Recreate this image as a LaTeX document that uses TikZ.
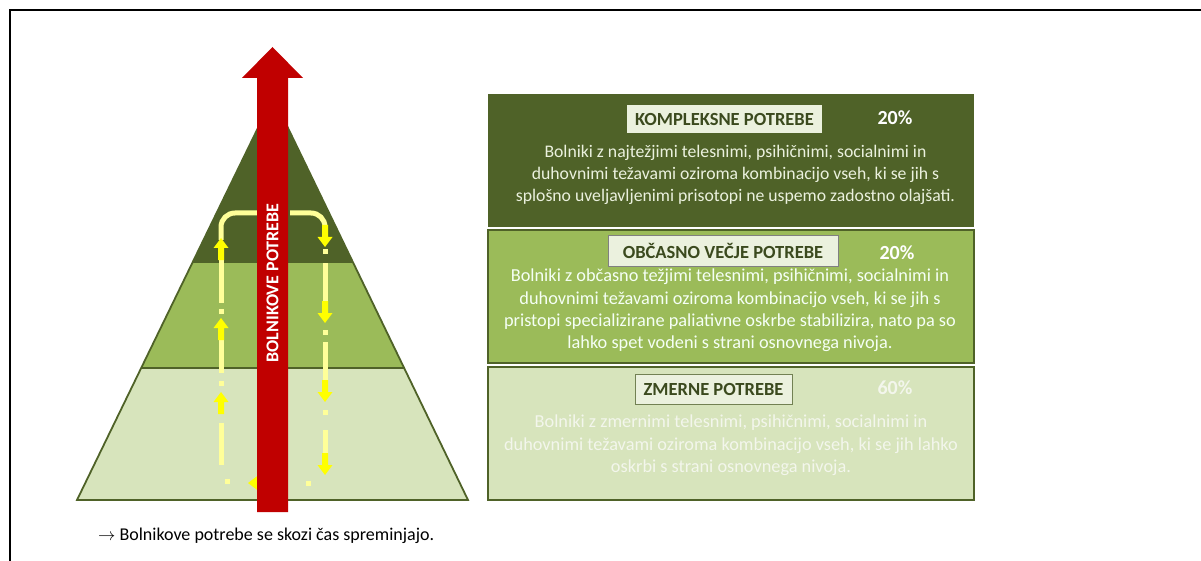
\documentclass[tikz,border=0pt]{standalone}
\usepackage{fontspec}
\setmainfont{Carlito}
\definecolor{dkg}{HTML}{4F6228}
\definecolor{mdg}{HTML}{9BBB59}
\definecolor{ltg}{HTML}{D7E4BC}
\definecolor{pale}{HTML}{EBF1DE}
\definecolor{redarr}{HTML}{C00000}
\definecolor{ylin}{HTML}{FFFF99}
\definecolor{yarr}{HTML}{FFFF00}
\definecolor{ttl}{HTML}{3B4A1E}
\definecolor{faint}{HTML}{F3F6EC}
\newcommand\yblk[3]{\fill[yarr, shift={(#1,#2)}, rotate=#3] (0,0) -- (7.5,10) -- (3,10) -- (3,22) -- (-3,22) -- (-3,10) -- (-7.5,10) -- cycle;}
\newcommand\ydot[2]{\fill[ylin] (#1-2.5,#2-2.5) rectangle +(5,5);}
\begin{document}
\begin{tikzpicture}[x=1pt,y=-1pt,
  yl/.style={ylin, line width=5pt},
  bigbox/.style={minimum width=486pt, minimum height=133pt, inner sep=0pt},
  ttlbox/.style={fill=pale, text=ttl, font=\fontsize{18.5}{20}\selectfont\bfseries, inner sep=0pt},
  pct/.style={font=\fontsize{20}{22}\selectfont\bfseries, inner sep=0pt},
  body/.style={align=center, font=\fontsize{18.3}{22.3}\selectfont, inner sep=0pt}]
\useasboundingbox (0,0) rectangle (1201,561);
% frame
\draw[line width=2.5pt] (1201,10) -- (10,10) -- (10,561);
% pyramid
\coordinate (apex) at (273,97);
\coordinate (bl) at (77,500);
\coordinate (br) at (468,500);
\coordinate (l1) at (192.7,262);
\coordinate (r1) at (352.8,262);
\coordinate (l2) at (141.2,368);
\coordinate (r2) at (404.2,368);
\fill[ltg] (l2) -- (r2) -- (br) -- (bl) -- cycle;
\fill[mdg] (l1) -- (r1) -- (r2) -- (l2) -- cycle;
\fill[dkg] (apex) -- (r1) -- (l1) -- cycle;
\draw[dkg, line width=1.8pt, line join=miter] (apex) -- (br) -- (bl) -- cycle;
\draw[dkg, line width=1.8pt] (l2) -- (r2);
\draw[dkg, line width=1pt] (l1) -- (r1);
% yellow loop
\draw[yl, rounded corners=14pt] (221,240) -- (221,213) -- (258,213);
\draw[yl, rounded corners=14pt] (290,213) -- (325,213) -- (325,232);
% left column (upward)
\draw[yl] (221,260) -- (221,303);
\ydot{221}{311}
\draw[yl] (221,340) -- (221,373);
\ydot{221}{383}
\draw[yl] (221,423) -- (221,465);
\ydot{227}{481}
\yblk{221}{238}{0}
\yblk{221}{318}{0}
\yblk{221}{392}{0}
% right column (downward)
\ydot{325}{252}
\draw[yl] (325,263) -- (325,303);
\ydot{325}{332}
\draw[yl] (325,342) -- (325,380);
\ydot{325}{412}
\draw[yl] (325,430) -- (325,455);
\yblk{325}{247}{180}
\yblk{325}{323}{180}
\yblk{325}{402}{180}
\yblk{325}{475}{180}
% bottom
\ydot{308}{483}
\yblk{248}{483}{90}
% red arrow
\fill[redarr] (257,512) -- (257,78) -- (242,78) -- (272.5,47) -- (303,78) -- (288,78) -- (288,512) -- cycle;
\node[rotate=90, text=white, font=\fontsize{18}{20}\selectfont\bfseries, inner sep=0pt] (lab) at (272.5,283) {BOLNIKOVE POTREBE};
% boxes
\node[bigbox, fill=dkg] (b1) at (731,161) {};
\node[bigbox, fill=mdg, draw=dkg, line width=2pt] (b2) at (731,296.5) {};
\node[bigbox, fill=ltg, draw=dkg, line width=2pt] (b3) at (731,433.5) {};
% titles
\node[ttlbox, minimum width=195pt, minimum height=28pt] (t1) at (724.5,119) {KOMPLEKSNE POTREBE};
\node[ttlbox, draw=gray, line width=0.8pt, minimum width=230pt, minimum height=31pt] (t2) at (723,251) {OBČASNO VEČJE POTREBE};
\node[ttlbox, draw=dkg!80, line width=1pt, minimum width=157pt, minimum height=30pt] (t3) at (713.5,389) {ZMERNE POTREBE};
% percents
\node[pct, text=white] (p1) at (895,118) {20\%};
\node[pct, text=white] (p2) at (897,253) {20\%};
\node[pct, text=faint] (p3) at (895,388) {60\%};
% body texts
\node[body, text=pale, font=\fontsize{17.7}{22.3}\selectfont] (x1) at (735.5,175) {Bolniki z najtežjimi telesnimi, psihičnimi, socialnimi in\\duhovnimi težavami oziroma kombinacijo vseh, ki se jih s\\splošno uveljavljenimi prisotopi ne uspemo zadostno olajšati.};
\node[body, text=white!96!green] (x2) at (730,310.5) {Bolniki z občasno težjimi telesnimi, psihičnimi, socialnimi in\\duhovnimi težavami oziroma kombinacijo vseh, ki se jih s\\pristopi specializirane paliativne oskrbe stabilizira, nato pa so\\lahko spet vodeni s strani osnovnega nivoja.};
\node[body, text=faint] (x3) at (731,445.5) {Bolniki z zmernimi telesnimi, psihičnimi, socialnimi in\\duhovnimi težavami oziroma kombinacijo vseh, ki se jih lahko\\oskrbi s strani osnovnega nivoja.};
% footer
\node[anchor=west, inner sep=0pt, font=\fontsize{18}{20}\selectfont] (foot) at (98,536) {$\rightarrow$ Bolnikove potrebe se skozi čas spreminjajo.};
\end{tikzpicture}
\end{document}
